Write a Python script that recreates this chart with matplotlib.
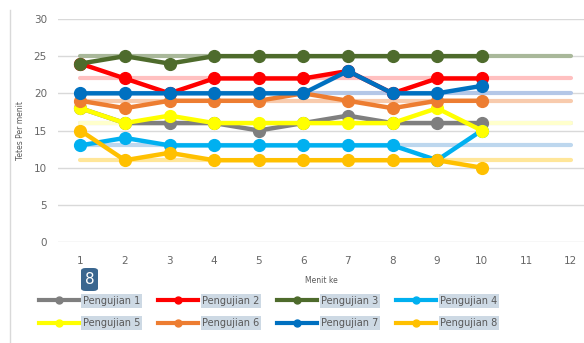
import numpy as np
import matplotlib
matplotlib.use('Agg')
import matplotlib.pyplot as plt
from matplotlib.patches import FancyBboxPatch
from matplotlib.lines import Line2D

menit = [1, 2, 3, 4, 5, 6, 7, 8, 9, 10]
x_ticks = [1, 2, 3, 4, 5, 6, 7, 8, 9, 10, 11, 12]

names = ['Pengujian 1', 'Pengujian 2', 'Pengujian 3', 'Pengujian 4',
         'Pengujian 5', 'Pengujian 6', 'Pengujian 7', 'Pengujian 8']
p1 = [18, 16, 16, 16, 15, 16, 17, 16, 16, 16]
p2 = [24, 22, 20, 22, 22, 22, 23, 20, 22, 22]
p3 = [24, 25, 24, 25, 25, 25, 25, 25, 25, 25]
p4 = [13, 14, 13, 13, 13, 13, 13, 13, 11, 15]
p5 = [18, 16, 17, 16, 16, 16, 16, 16, 18, 15]
p6 = [19, 18, 19, 19, 19, 20, 19, 18, 19, 19]
p7 = [20, 20, 20, 20, 20, 20, 23, 20, 20, 21]
p8 = [15, 11, 12, 11, 11, 11, 11, 11, 11, 10]
series = [p1, p2, p3, p4, p5, p6, p7, p8]

# faint flat trend levels drawn from minute 1 to 12
trend = [16, 22, 25, 13, 16, 19, 20, 11]

colors = ['#7f7f7f', '#ff0000', '#4e6b2c', '#00b0f0',
          '#ffff00', '#ed7d31', '#0070c0', '#ffc000']
trend_colors = ['#d9d9d9', '#ffc0c0', '#a9b89a', '#bdd7ee',
                '#ffffcc', '#f8cbad', '#b4c7e7', '#ffe699']

fig = plt.figure(figsize=(5.84, 3.43), dpi=100)
ax = fig.add_axes([58 / 584, 1 - 242 / 343, 526 / 584, 223 / 343])

for lvl, c in zip(trend, trend_colors):
    ax.plot([1, 12], [lvl, lvl], color=c, lw=3, solid_capstyle='round', zorder=1)

for vals, c in zip(series, colors):
    ax.plot(menit, vals, color=c, lw=3.2, marker='o', markersize=8.5,
            solid_joinstyle='round', zorder=3)

ax.set_xlim(0.5, 0.5 + 526 / 44.6)
ax.set_ylim(0, 30)
ax.set_yticks(range(0, 31, 5))
ax.set_xticks(x_ticks)
ax.grid(axis='y', color='#d9d9d9', lw=1)
ax.set_axisbelow(True)
for s in ax.spines.values():
    s.set_visible(False)
ax.tick_params(length=0, labelsize=7.5, labelcolor='#666666', pad=10)
ax.tick_params(axis='y', pad=8)
ax.set_ylabel('Tetes Per menit', fontsize=5.5, color='#595959', labelpad=6)
ax.set_xlabel('Menit ke', fontsize=5.5, color='#595959', labelpad=7)

# legend, filled row by row
order = [0, 4, 1, 5, 2, 6, 3, 7]
handles = [Line2D([], [], color=colors[i], lw=3, marker='o', markersize=5) for i in order]
labels = [names[i] for i in order]
leg = fig.legend(handles, labels, loc='upper left', bbox_to_anchor=(34 / 584, 1 - 291 / 343),
                 ncol=4, frameon=False, fontsize=7, handlelength=4.1,
                 handletextpad=0.45, columnspacing=1.8, labelspacing=1.25,
                 borderpad=0)
for t in leg.get_texts():
    t.set_color('#595959')
    t.set_bbox(dict(facecolor='#cdd9e4', edgecolor='none', pad=1.2))

# selection badge
badge = FancyBboxPatch((81 / 584, 1 - 291 / 343), 17 / 584, 23 / 343,
                       boxstyle='round,pad=0,rounding_size=0.008',
                       transform=fig.transFigure, facecolor='#3a668f',
                       edgecolor='none')
fig.patches.append(badge)
fig.text(89.5 / 584, 1 - 279.5 / 343, '8', color='white', fontsize=11,
         ha='center', va='center')

# chart border on the left
fig.add_artist(Line2D([10 / 584, 10 / 584], [0, 1 - 10 / 343],
                      color='#d9d9d9', lw=1, transform=fig.transFigure))

fig.savefig('out.png', dpi=100)
